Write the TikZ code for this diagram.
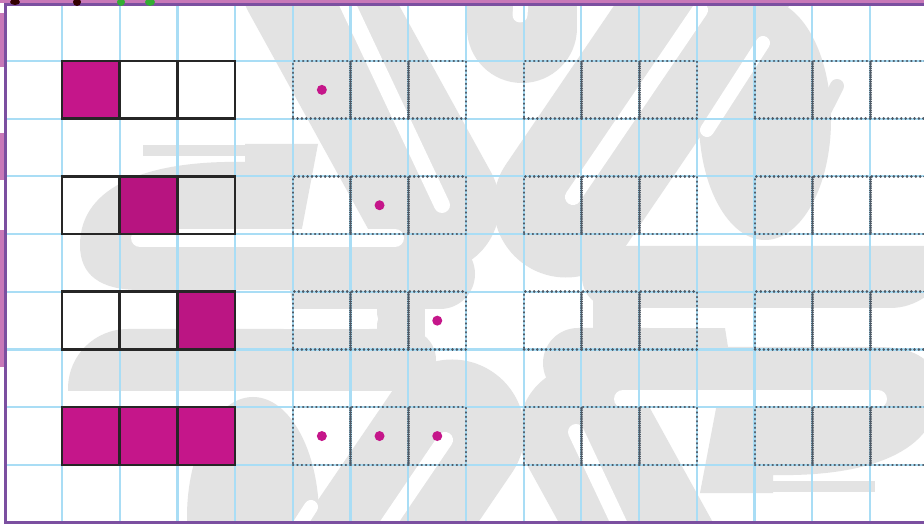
\documentclass[tikz,border=0pt]{standalone}
\definecolor{gridblue}{HTML}{A9DDF5}
\definecolor{mag}{HTML}{C5168A}
\definecolor{framepurple}{HTML}{7B4FA0}
\definecolor{framepink}{HTML}{C878B8}
\definecolor{wm}{HTML}{E3E3E3}
\definecolor{dotgrey}{HTML}{4E5A66}
\definecolor{boxline}{HTML}{262626}
\tikzset{
  gridline/.style={draw=gridblue, line width=2.2pt},
  cell/.style={draw=boxline, line width=2.6pt, minimum size=57.7pt, inner sep=0pt, outer sep=0pt, anchor=north west},
  dcell/.style={draw=dotgrey, line width=2.6pt, dash pattern=on 0.2pt off 4.2pt, line cap=round, minimum size=57.7pt, inner sep=0pt, outer sep=0pt, anchor=north west},
  pt/.style={circle, fill=mag, minimum size=10pt, inner sep=0pt},
  wmline/.style={draw=wm, line cap=round},
  wmcut/.style={draw=white, line cap=round, line width=16pt}
}
\newcommand\wmgreyshapes{%
  \draw[wmline, line width=135pt] (308,-20) -- (432,205);
  \draw[wmline, line width=145pt] (726,-30) -- (566,205);
  \draw[wmline, line width=110pt] (522,-60) -- (522,28);
  \fill[wm] (765,120) ellipse [x radius=66, y radius=120];
  \draw[wmline, line width=14pt] (837,86) -- (784,191);
  \fill[wm] (143,145) rectangle (247,156);
  \fill[wm] (318,144) -- (245,144) -- (245,162) .. controls (150,160) and (80,185) .. (80,245)
     .. controls (80,275) and (100,290) .. (140,290) -- (290,290) -- (293,309) -- (440,309)
     arc[start angle=90, end angle=-90, radius=35] -- (300,239) -- cycle;
  \fill[wm] (128,329) -- (405,329) arc[start angle=-90, end angle=90, radius=31] -- (68,391) -- (68,389)
     .. controls (68,355) and (95,329) .. (128,329) -- cycle;
  \fill[wm] (377,300) rectangle (425,340);
}
\newcommand\wmwhiteshapes{%
  \draw[wmcut] (336,-20) -- (442,205);
  \draw[wmcut] (700,10) -- (573,197);
  \draw[wmcut, line width=15pt] (522,-10) -- (520,15);
  \draw[wmcut, line width=14pt] (763,43) -- (707,130);
  \draw[wmcut, line width=18pt] (140,238) -- (395,238);
  \draw[wmcut, line width=20pt] (285,319) -- (368,319);
}
\begin{document}
\begin{tikzpicture}[x=1pt,y=-1pt]
\useasboundingbox (0,0) rectangle (924,526);
\fill[white] (0,0) rectangle (924,526);
% watermark
\begin{scope}
  \clip (5,5) rectangle (924,522);
  \foreach \r in {0,180}{\begin{scope}[rotate around={\r:(509,318.5)}]\wmgreyshapes\end{scope}}
  \foreach \r in {0,180}{\begin{scope}[rotate around={\r:(509,318.5)}]\wmwhiteshapes\end{scope}}
\end{scope}
% grid
\foreach \i in {0,...,14}{\draw[gridline] ({62+57.7*\i},6) -- ({62+57.7*\i},521);}
\foreach \j in {0,...,7}{\draw[gridline] (6,{61+57.7*\j}) -- (924,{61+57.7*\j});}
% solid cells
\foreach \row/\pa/\pb/\pc in {0/mag/none/none, 1/none/mag!93!black/none, 2/none/none/mag!95!black, 3/mag/mag/mag}{
  \node[cell, fill=\pa] (s\row a) at (62, {61+115.4*\row}) {};
  \node[cell, fill=\pb] (s\row b) at (119.7, {61+115.4*\row}) {};
  \node[cell, fill=\pc] (s\row c) at (177.4, {61+115.4*\row}) {};
}
% dotted cells
\foreach \row in {0,1,2,3}{
  \foreach \g in {0,1,2}{
    \foreach \k in {0,1,2}{
      \node[dcell] (d\row-\g-\k) at ({293+231*\g+57.7*\k}, {61+115.4*\row}) {};
    }
  }
}
% dots
\node[pt] (p0) at (d0-0-0.center) {};
\node[pt] (p1) at (d1-0-1.center) {};
\node[pt] (p2) at (d2-0-2.center) {};
\node[pt] (p3a) at (d3-0-0.center) {};
\node[pt] (p3b) at (d3-0-1.center) {};
\node[pt] (p3c) at (d3-0-2.center) {};
% frame and edge remnants
\fill[framepink] (0,0) rectangle (924,3.5);
\fill[framepink] (0,13) rectangle (4,67);
\fill[framepink] (0,133) rectangle (4,180);
\fill[framepink] (0,230) rectangle (4,367);
\draw[framepurple, line width=3pt] (924,5) -- (5,5) -- (5,522.5) -- (924,522.5);
\fill[black!80!red] (15,2) ellipse [x radius=5, y radius=3];
\fill[black!80!red] (77,2) ellipse [x radius=4, y radius=4];
\fill[green!60!black!80] (121,2) ellipse [x radius=4, y radius=4];
\fill[green!60!black!80] (150,2) ellipse [x radius=5, y radius=4];
\end{tikzpicture}
\end{document}
